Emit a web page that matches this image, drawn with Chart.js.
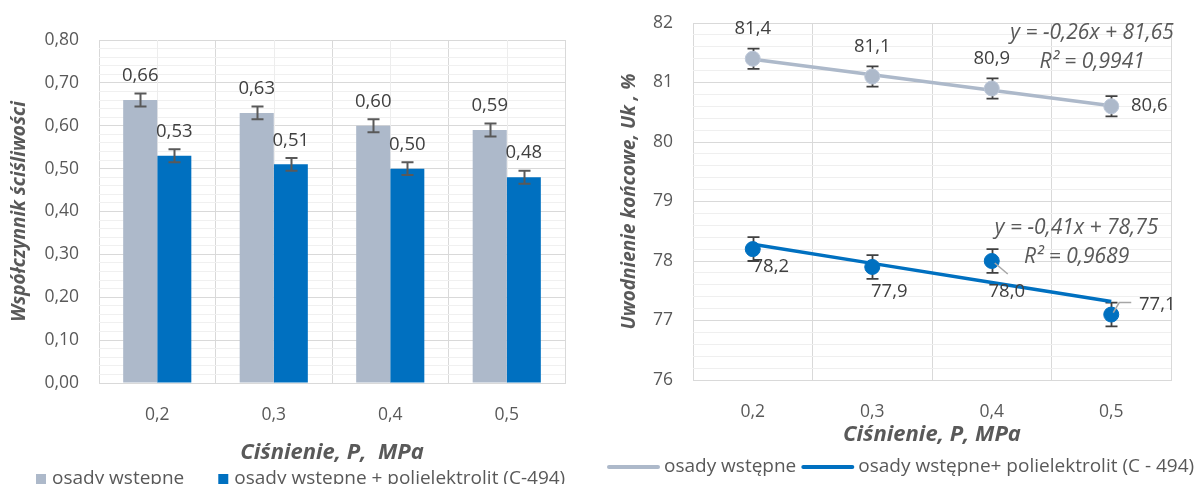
<!DOCTYPE html>
<html><head><meta charset="utf-8">
<script src="https://cdn.jsdelivr.net/npm/chart.js@4/dist/chart.umd.min.js"></script>
<style>
html,body{margin:0;padding:0;background:#fff;width:1197px;height:484px;overflow:hidden}
#c1{position:absolute;left:0;top:0}
#c2{position:absolute;left:596px;top:0}
</style></head><body>
<canvas id="c1" width="596" height="484"></canvas>
<canvas id="c2" width="601" height="484"></canvas>
<script>
// ---------- DATA ----------
const categories = ['0,2', '0,3', '0,4', '0,5'];
const seriesNames = ['osady wstępne', 'osady wstępne + polielektrolit (C-494)'];
const seriesNamesRight = ['osady wstępne', 'osady wstępne+ polielektrolit (C - 494)'];
// left: współczynnik ściśliwości
const wspGrey = [0.66, 0.63, 0.60, 0.59];
const wspBlue = [0.53, 0.51, 0.50, 0.48];
const wspGreyErr = [0.015, 0.015, 0.015, 0.015];
const wspBlueErr = [0.015, 0.015, 0.015, 0.015];
// right: uwodnienie końcowe
const uwGrey = [81.4, 81.1, 80.9, 80.6];
const uwBlue = [78.2, 77.9, 78.0, 77.1];
const uwGreyErr = [0.17, 0.17, 0.17, 0.17];
const uwBlueErr = [0.2, 0.2, 0.2, 0.2];
const uwGreyTrend = [81.39, 81.13, 80.87, 80.61];
const uwBlueTrend = [78.28, 77.96, 77.64, 77.32];
const eqGrey = ['y = -0,26x + 81,65', 'R² = 0,9941'];
const eqBlue = ['y = -0,41x + 78,75', 'R² = 0,9689'];

// ---------- STYLE ----------
const GREY = '#ADB9CA', BLUE = '#0070C0', TXT = '#595959', LBL = '#404040';
const FONT = "'Open Sans', sans-serif";
Chart.defaults.font.family = FONT;
Chart.defaults.color = TXT;

const isMajor = (v, step) => Math.abs(v / step - Math.round(v / step)) < 1e-6;

const errorBarPlugin = {
  id: 'errorBars',
  drawBars(chart, behind) {
    const ctx = chart.ctx;
    chart.data.datasets.forEach((ds, di) => {
      if (!ds.errors || !!ds.errorBehind !== behind) return;
      const meta = chart.getDatasetMeta(di);
      const ys = chart.scales[meta.yAxisID];
      ctx.save();
      ctx.strokeStyle = ds.errorColor; ctx.lineWidth = ds.errorWidth;
      meta.data.forEach((el, i) => {
        const v = ds.data[i], e = ds.errors[i];
        const x = Math.round(el.x) + 0.5;
        const y1 = ys.getPixelForValue(v + e), y2 = ys.getPixelForValue(v - e);
        const cw = ds.errorCap;
        ctx.beginPath();
        ctx.moveTo(x, y1); ctx.lineTo(x, y2);
        ctx.moveTo(x - cw, y1); ctx.lineTo(x + cw, y1);
        ctx.moveTo(x - cw, y2); ctx.lineTo(x + cw, y2);
        ctx.stroke();
      });
      ctx.restore();
    });
  },
  beforeDatasetsDraw(chart) { this.drawBars(chart, true); },
  afterDatasetsDraw(chart) { this.drawBars(chart, false); }
};

const centerLinePlugin = {
  id: 'centerLines',
  beforeDatasetsDraw(chart, args, opts) {
    if (!opts.color) return;
    const {ctx, chartArea} = chart; const xs = chart.scales.x;
    ctx.save(); ctx.strokeStyle = opts.color; ctx.lineWidth = 1;
    for (let i = 0; i < chart.data.labels.length; i++) {
      const x = Math.round(xs.getPixelForValue(i)) + 0.5;
      ctx.beginPath(); ctx.moveTo(x, chartArea.top); ctx.lineTo(x, chartArea.bottom); ctx.stroke();
    }
    ctx.restore();
  }
};

const valueLabelPlugin = {
  id: 'valueLabels',
  afterDatasetsDraw(chart) {
    const ctx = chart.ctx;
    chart.data.datasets.forEach((ds, di) => {
      if (!ds.valueLabels) return;
      const vl = ds.valueLabels;
      const meta = chart.getDatasetMeta(di);
      ctx.save();
      ctx.font = '18.5px ' + FONT; ctx.fillStyle = LBL;
      ctx.textAlign = 'center'; ctx.textBaseline = 'middle';
      meta.data.forEach((el, i) => {
        const off = vl.offsets[i];
        const txt = ds.data[i].toFixed(vl.decimals).replace('.', ',');
        const x = el.x + off[0], y = el.y + off[1];
        ctx.fillText(txt, x, y);
        if (vl.leaders && vl.leaders[i]) {
          ctx.save(); ctx.strokeStyle = '#A6A6A6'; ctx.lineWidth = 1.5;
          ctx.beginPath();
          vl.leaders[i].forEach((p, k) => { k ? ctx.lineTo(el.x + p[0], el.y + p[1]) : ctx.moveTo(el.x + p[0], el.y + p[1]); });
          ctx.stroke(); ctx.restore();
        }
      });
      ctx.restore();
    });
  }
};

const eqPlugin = {
  id: 'eqTexts',
  afterDatasetsDraw(chart, args, opts) {
    if (!opts.items) return;
    const ctx = chart.ctx;
    ctx.save();
    ctx.font = 'italic 21px ' + FONT; ctx.fillStyle = TXT;
    ctx.textAlign = 'center'; ctx.textBaseline = 'middle';
    const xs = chart.scales.x;
    opts.items.forEach(it => {
      const x = xs.getPixelForValue(0) + it.xi * (xs.getPixelForValue(1) - xs.getPixelForValue(0));
      ctx.fillText(it.text, x, chart.scales.y.getPixelForValue(it.yv));
    });
    ctx.restore();
  }
};

const legendPlugin = {
  id: 'customLegend',
  afterDraw(chart, args, opts) {
    const ctx = chart.ctx;
    ctx.save();
    ctx.font = '19px ' + FONT; ctx.textBaseline = 'middle'; ctx.textAlign = 'left';
    let x = opts.x; const y = opts.y;
    chart.data.datasets.filter(d => d.legendLabel).forEach(ds => {
      if (opts.kind === 'box') {
        ctx.fillStyle = ds.legendColor;
        ctx.fillRect(x, y - 5, 10, 11);
        x += 10 + opts.gap;
      } else {
        ctx.strokeStyle = ds.legendColor; ctx.lineWidth = 4; ctx.lineCap = 'round';
        ctx.beginPath(); ctx.moveTo(x + 2, y); ctx.lineTo(x + opts.lineLen - 2, y); ctx.stroke();
        x += opts.lineLen + opts.gap;
      }
      ctx.fillStyle = TXT;
      ctx.fillText(ds.legendLabel, x, y);
      x += ctx.measureText(ds.legendLabel).width + opts.itemGap;
    });
    ctx.restore();
  }
};

const fixY = w => s => { s.width = w; s.paddingTop = 0; s.paddingBottom = 0; };

// ---------- LEFT CHART ----------
new Chart(document.getElementById('c1'), {
  type: 'bar',
  data: {
    labels: categories,
    datasets: [
      { label: seriesNames[0], legendLabel: seriesNames[0], legendColor: GREY, data: wspGrey, backgroundColor: GREY,
        errors: wspGreyErr, errorColor: '#595959', errorWidth: 2, errorCap: 6,
        valueLabels: { decimals: 2, offsets: [[0,-24],[0,-24],[0,-24],[0,-24]] } },
      { label: seriesNames[1], legendLabel: seriesNames[1], legendColor: BLUE, data: wspBlue, backgroundColor: BLUE,
        errors: wspBlueErr, errorColor: '#595959', errorWidth: 2, errorCap: 6,
        valueLabels: { decimals: 2, offsets: [[0,-24],[0,-24],[0,-24],[0,-24]] } }
    ]
  },
  options: {
    responsive: false, animation: false, devicePixelRatio: 1,
    categoryPercentage: 0.585, barPercentage: 1.0,
    layout: { padding: { top: 40, right: 31, bottom: 0, left: 0 } },
    plugins: {
      legend: { display: false }, tooltip: { enabled: false },
      centerLines: { color: '#EDEDED' },
      customLegend: { kind: 'box', x: 36, y: 479, gap: 6, itemGap: 34 }
    },
    scales: {
      x: {
        grid: { color: '#D9D9D9', offset: true, drawTicks: false },
        border: { color: '#D9D9D9' },
        ticks: { font: { size: 17.5 }, color: TXT, padding: 22 },
        title: { display: true, text: 'Ciśnienie, P,  MPa', font: { size: 22, weight: 'bold', style: 'italic' }, color: TXT, padding: { top: 0, bottom: 18 } },
        afterFit: s => { s.height = 101; }
      },
      y: {
        min: 0, max: 0.8,
        grid: { drawTicks: false, color: c => isMajor(c.tick.value, 0.1) ? '#D9D9D9' : '#F0F0F0' },
        border: { display: false },
        ticks: { stepSize: 0.02, autoSkip: false, font: { size: 17.5 }, color: TXT, padding: 20,
          callback: v => isMajor(v, 0.1) ? v.toFixed(2).replace('.', ',') : '' },
        title: { display: true, text: 'Współczynnik ściśliwości', font: { size: 19, weight: 'bold', style: 'italic' }, color: TXT, padding: { top: 8.6, bottom: 0 } },
        afterFit: fixY(99)
      }
    }
  },
  plugins: [centerLinePlugin, errorBarPlugin, valueLabelPlugin, legendPlugin]
});

// ---------- RIGHT CHART ----------
new Chart(document.getElementById('c2'), {
  type: 'line',
  data: {
    labels: categories,
    datasets: [
      { label: 'trend1', data: uwGreyTrend, borderColor: GREY, borderWidth: 3.5, pointRadius: 0, order: 1,
        legendLabel: seriesNamesRight[0], legendColor: GREY },
      { label: 'trend2', data: uwBlueTrend, borderColor: BLUE, borderWidth: 3.5, pointRadius: 0, order: 1,
        legendLabel: seriesNamesRight[1], legendColor: BLUE },
      { label: seriesNamesRight[0], data: uwGrey, showLine: false, pointRadius: 7.5, pointBackgroundColor: GREY,
        pointBorderColor: '#BCC7D8', pointBorderWidth: 1, order: 0,
        errors: uwGreyErr, errorColor: '#404040', errorWidth: 1.8, errorCap: 6, errorBehind: true,
        valueLabels: { decimals: 1, offsets: [[0,-30],[0,-30],[0,-30],[38,-1]] } },
      { label: seriesNamesRight[1], data: uwBlue, showLine: false, pointRadius: 7.5, pointBackgroundColor: BLUE,
        pointBorderColor: BLUE, pointBorderWidth: 1, order: 0,
        errors: uwBlueErr, errorColor: '#404040', errorWidth: 1.8, errorCap: 6, errorBehind: true,
        valueLabels: { decimals: 1, offsets: [[18,18],[17,25],[15,31],[46,-10]],
          leaders: [null, null, [[3,2],[16,13]], [[2,-2],[8,-12],[20,-12]]] } }
    ]
  },
  options: {
    responsive: false, animation: false, devicePixelRatio: 1,
    layout: { padding: { top: 23, right: 26, bottom: 0, left: 0 } },
    plugins: {
      legend: { display: false }, tooltip: { enabled: false },
      eqTexts: { items: [
        { text: eqGrey[0], xi: 2.84, yv: 81.83 },
        { text: eqGrey[1], xi: 2.84, yv: 81.34 },
        { text: eqBlue[0], xi: 2.71, yv: 78.55 },
        { text: eqBlue[1], xi: 2.71, yv: 78.07 }
      ] },
      customLegend: { kind: 'line', x: 11, y: 467, lineLen: 53, gap: 4, itemGap: 5 }
    },
    scales: {
      x: {
        offset: true,
        grid: { color: '#D9D9D9', offset: true, drawTicks: false },
        border: { color: '#D9D9D9' },
        ticks: { font: { size: 17.5 }, color: TXT, padding: 21.5 },
        title: { display: true, text: 'Ciśnienie, P, MPa', font: { size: 22, weight: 'bold', style: 'italic' }, color: TXT, padding: { top: 0, bottom: 36 } },
        afterFit: s => { s.height = 104; }
      },
      y: {
        min: 76, max: 82,
        grid: { drawTicks: false, color: c => isMajor(c.tick.value, 1) ? '#D9D9D9' : '#EFEFEF' },
        border: { display: false },
        ticks: { stepSize: 0.2, autoSkip: false, font: { size: 17.5 }, color: TXT, padding: 20,
          callback: v => isMajor(v, 1) ? String(Math.round(v)) : '' },
        title: { display: true, text: 'Uwodnienie końcowe, Uk , %', font: { size: 19, weight: 'bold', style: 'italic' }, color: TXT, padding: { top: 22.6, bottom: 0 } },
        afterFit: fixY(97)
      }
    }
  },
  plugins: [errorBarPlugin, valueLabelPlugin, eqPlugin, legendPlugin]
});
</script>
</body></html>
